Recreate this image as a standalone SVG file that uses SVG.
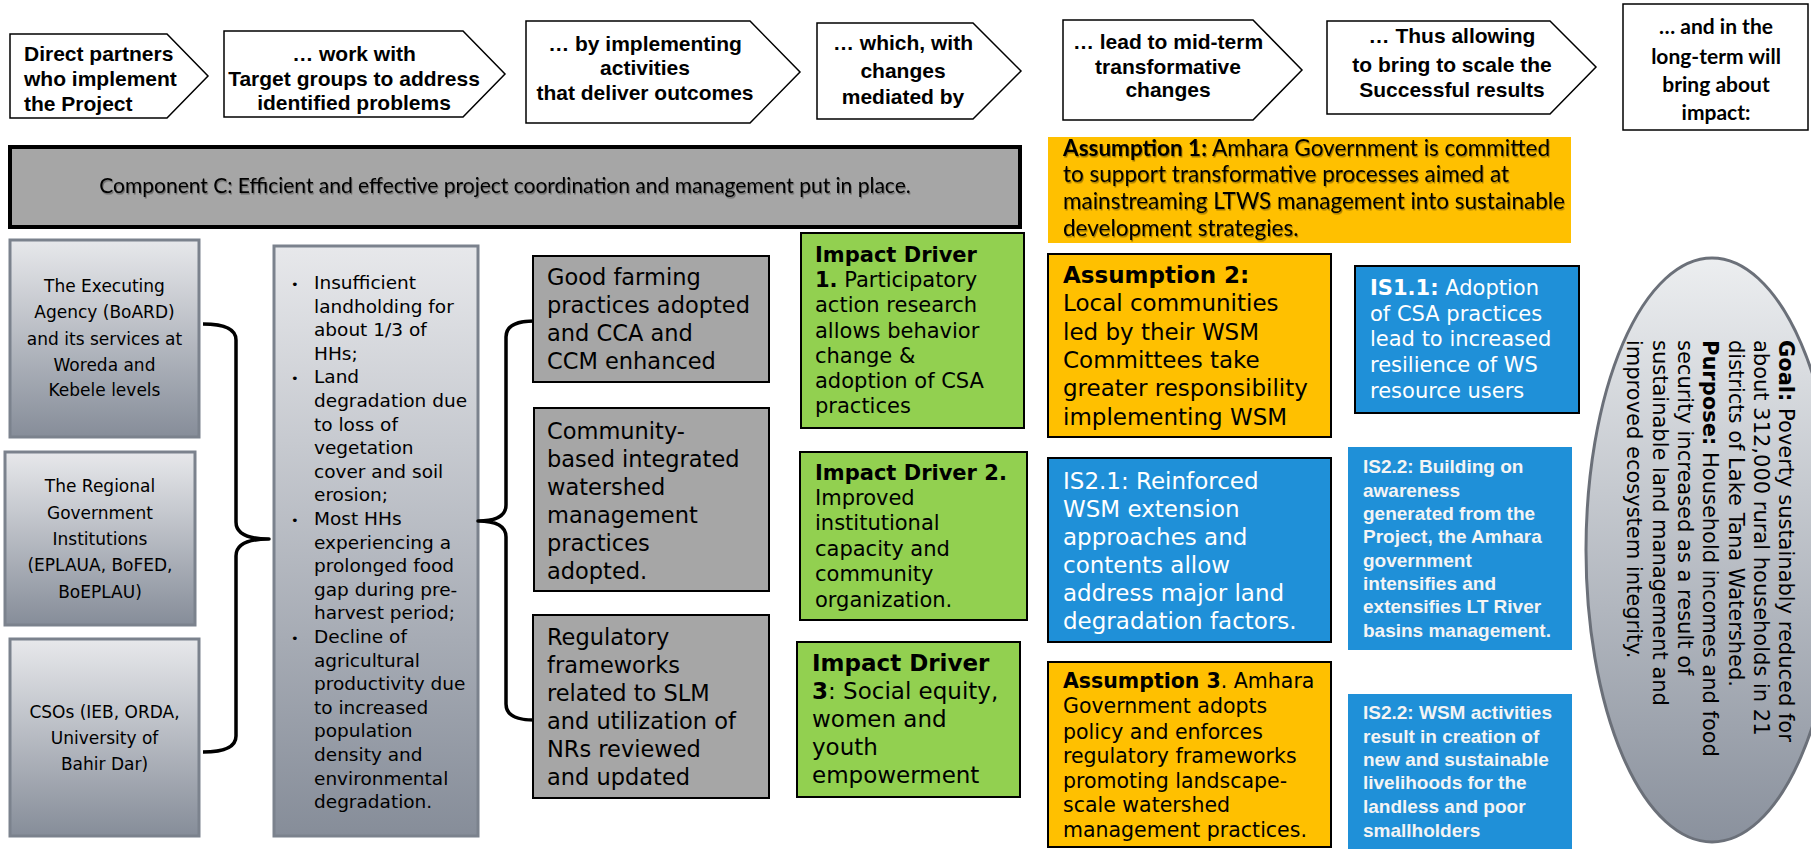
<svg xmlns="http://www.w3.org/2000/svg" width="1811" height="849" viewBox="0 0 1811 849">
<defs>
<linearGradient id="gPartner" x1="0" y1="0" x2="0" y2="1"><stop offset="0" stop-color="#e7e8eb"/><stop offset="1" stop-color="#868d99"/></linearGradient>
<linearGradient id="gEll" x1="0" y1="0" x2="0" y2="1"><stop offset="0" stop-color="#eceef0"/><stop offset="1" stop-color="#8a919d"/></linearGradient>
<filter id="ts" x="-5%" y="-30%" width="110%" height="160%"><feDropShadow dx="1" dy="1.5" stdDeviation="0.7" flood-color="#000" flood-opacity="0.35"/></filter>
</defs>
<style>
.hdr{fill:#fff;stroke:#000;stroke-width:1.5}
.ht{font-family:"Liberation Sans",Arial,sans-serif;font-weight:bold;font-size:21px;fill:#000}
.lt{font-family:Lato,"Liberation Sans",sans-serif;fill:#000}
.v{font-family:"DejaVu Sans",Verdana,sans-serif;fill:#000}
.partner{fill:url(#gPartner);stroke:#7b828d;stroke-width:3}
.gray{fill:#a6a6a6;stroke:#000;stroke-width:2}
.green{fill:#92d050;stroke:#000;stroke-width:2}
.yellow{fill:#ffc000;stroke:#000;stroke-width:2}
.blue{fill:#1f90d8;stroke:#000;stroke-width:2}
.bluenb{fill:#1f90d8}
.wt{fill:#fff}
.ab{font-family:"Liberation Sans",Arial,sans-serif;font-weight:bold;font-size:19px;fill:#f4f4f4}
.brace{fill:none;stroke:#000;stroke-width:3.5;stroke-linejoin:round}
.b{font-weight:bold}
</style>

<!-- Header row -->
<g id="h1">
<polygon class="hdr" points="10,34 167,34 208,76 167,118 10,118"/>
<text class="ht"><tspan x="24" y="61">Direct partners</tspan><tspan x="24" y="86">who implement</tspan><tspan x="24" y="111">the Project</tspan></text>
</g>
<g id="h2">
<polygon class="hdr" points="224,31 463,31 505,74 463,117 224,117"/>
<text class="ht" text-anchor="middle"><tspan x="354" y="61">…  work with</tspan><tspan x="354" y="86">Target groups to address</tspan><tspan x="354" y="110">identified problems</tspan></text>
</g>
<g id="h3">
<polygon class="hdr" points="526,21 750,21 800,72 750,123 526,123"/>
<text class="ht" text-anchor="middle"><tspan x="645" y="51">… by implementing</tspan><tspan x="645" y="75">activities</tspan><tspan x="645" y="100">that deliver outcomes</tspan></text>
</g>
<g id="h4">
<polygon class="hdr" points="817,23 973,23 1021,71 973,119 817,119"/>
<text class="ht" text-anchor="middle"><tspan x="903" y="50">… which, with</tspan><tspan x="903" y="78">changes</tspan><tspan x="903" y="104">mediated by</tspan></text>
</g>
<g id="h5">
<polygon class="hdr" points="1063,20 1253,20 1302,70 1253,120 1063,120"/>
<text class="ht" text-anchor="middle"><tspan x="1168" y="49">… lead to mid-term</tspan><tspan x="1168" y="74">transformative</tspan><tspan x="1168" y="97">changes</tspan></text>
</g>
<g id="h6">
<polygon class="hdr" points="1327,21 1550,21 1596,67 1550,114 1327,114"/>
<text class="ht" text-anchor="middle"><tspan x="1452" y="43">… Thus allowing</tspan><tspan x="1452" y="72">to bring to scale the</tspan><tspan x="1452" y="97">Successful results</tspan></text>
</g>
<g id="h7">
<rect class="hdr" x="1623" y="4" width="185" height="126"/>
<text class="lt b" font-size="21" text-anchor="middle"><tspan x="1716" y="34">… and in the</tspan><tspan x="1716" y="64">long-term will</tspan><tspan x="1716" y="92">bring about</tspan><tspan x="1716" y="120">impact:</tspan></text>
</g>

<!-- Component C -->
<g id="componentC">
<rect x="10" y="147" width="1010" height="80" fill="#a6a6a6" stroke="#000" stroke-width="4"/>
<text class="lt" font-size="21" x="505" y="193" text-anchor="middle" filter="url(#ts)">Component C: Efficient and effective project coordination and management put in place.</text>
</g>

<!-- Assumption 1 -->
<g id="assumption1">
<rect x="1048" y="137" width="523" height="106" fill="#ffc000"/>
<text class="lt" font-size="22.5" filter="url(#ts)"><tspan x="1063" y="156"><tspan class="b">Assumption 1:</tspan> Amhara Government is committed</tspan><tspan x="1063" y="182">to support transformative processes aimed at</tspan><tspan x="1063" y="209">mainstreaming LTWS management into sustainable</tspan><tspan x="1063" y="236">development strategies.</tspan></text>
</g>

<!-- Partners -->
<g id="partner1">
<rect class="partner" x="10" y="240" width="189" height="197"/>
<text class="v" font-size="17" text-anchor="middle"><tspan x="104.5" y="292">The Executing</tspan><tspan x="104.5" y="318">Agency (BoARD)</tspan><tspan x="104.5" y="345">and its services at</tspan><tspan x="104.5" y="371">Woreda and</tspan><tspan x="104.5" y="396">Kebele levels</tspan></text>
</g>
<g id="partner2">
<rect class="partner" x="5" y="452" width="190" height="173"/>
<text class="v" font-size="17" text-anchor="middle"><tspan x="100" y="492">The Regional</tspan><tspan x="100" y="519">Government</tspan><tspan x="100" y="545">Institutions</tspan><tspan x="100" y="571">(EPLAUA, BoFED,</tspan><tspan x="100" y="598">BoEPLAU)</tspan></text>
</g>
<g id="partner3">
<rect class="partner" x="10" y="639" width="189" height="197"/>
<text class="v" font-size="17" text-anchor="middle"><tspan x="104.5" y="718">CSOs (IEB, ORDA,</tspan><tspan x="104.5" y="744">University of</tspan><tspan x="104.5" y="770">Bahir Dar)</tspan></text>
</g>

<!-- Problems -->
<g id="problems">
<rect class="partner" x="274" y="246" width="204" height="590"/>
<text class="v" font-size="18.5">
<tspan x="291" y="289" font-size="13">•</tspan><tspan x="314" y="289">Insufficient</tspan>
<tspan x="314" y="313">landholding for</tspan>
<tspan x="314" y="336">about 1/3 of</tspan>
<tspan x="314" y="360">HHs;</tspan>
<tspan x="291" y="383" font-size="13">•</tspan><tspan x="314" y="383">Land</tspan>
<tspan x="314" y="407">degradation due</tspan>
<tspan x="314" y="431">to loss of</tspan>
<tspan x="314" y="454">vegetation</tspan>
<tspan x="314" y="478">cover and soil</tspan>
<tspan x="314" y="501">erosion;</tspan>
<tspan x="291" y="525" font-size="13">•</tspan><tspan x="314" y="525">Most HHs</tspan>
<tspan x="314" y="549">experiencing a</tspan>
<tspan x="314" y="572">prolonged food</tspan>
<tspan x="314" y="596">gap during pre-</tspan>
<tspan x="314" y="619">harvest period;</tspan>
<tspan x="291" y="643" font-size="13">•</tspan><tspan x="314" y="643">Decline of</tspan>
<tspan x="314" y="667">agricultural</tspan>
<tspan x="314" y="690">productivity due</tspan>
<tspan x="314" y="714">to increased</tspan>
<tspan x="314" y="737">population</tspan>
<tspan x="314" y="761">density and</tspan>
<tspan x="314" y="785">environmental</tspan>
<tspan x="314" y="808">degradation.</tspan>
</text>
</g>

<!-- Outcomes -->
<g id="outcome1">
<rect class="gray" x="533" y="256" width="236" height="126"/>
<text class="v" font-size="22.5"><tspan x="547" y="285">Good farming</tspan><tspan x="547" y="313">practices adopted</tspan><tspan x="547" y="341">and CCA and</tspan><tspan x="547" y="369">CCM enhanced</tspan></text>
</g>
<g id="outcome2">
<rect class="gray" x="534" y="408" width="235" height="183"/>
<text class="v" font-size="22.5"><tspan x="547" y="439">Community-</tspan><tspan x="547" y="467">based integrated</tspan><tspan x="547" y="495">watershed</tspan><tspan x="547" y="523">management</tspan><tspan x="547" y="551">practices</tspan><tspan x="547" y="579">adopted.</tspan></text>
</g>
<g id="outcome3">
<rect class="gray" x="533" y="615" width="236" height="183"/>
<text class="v" font-size="22.5"><tspan x="547" y="645">Regulatory</tspan><tspan x="547" y="673">frameworks</tspan><tspan x="547" y="701">related to SLM</tspan><tspan x="547" y="729">and utilization of</tspan><tspan x="547" y="757">NRs reviewed</tspan><tspan x="547" y="785">and updated</tspan></text>
</g>

<!-- Impact drivers -->
<g id="driver1">
<rect class="green" x="801" y="233" width="223" height="195"/>
<text class="v" font-size="21"><tspan x="815" y="262" class="b">Impact Driver</tspan><tspan x="815" y="287"><tspan class="b">1.</tspan> Participatory</tspan><tspan x="815" y="312">action research</tspan><tspan x="815" y="338">allows behavior</tspan><tspan x="815" y="363">change &amp;</tspan><tspan x="815" y="388">adoption of CSA</tspan><tspan x="815" y="413">practices</tspan></text>
</g>
<g id="driver2">
<rect class="green" x="800" y="452" width="227" height="168"/>
<text class="v" font-size="21"><tspan x="815" y="480" class="b">Impact Driver 2.</tspan><tspan x="815" y="505">Improved</tspan><tspan x="815" y="530">institutional</tspan><tspan x="815" y="556">capacity and</tspan><tspan x="815" y="581">community</tspan><tspan x="815" y="607">organization.</tspan></text>
</g>
<g id="driver3">
<rect class="green" x="797" y="642" width="223" height="155"/>
<text class="v" font-size="23"><tspan x="812" y="671" class="b">Impact Driver</tspan><tspan x="812" y="699"><tspan class="b">3</tspan>: Social equity,</tspan><tspan x="812" y="727">women and</tspan><tspan x="812" y="755">youth</tspan><tspan x="812" y="783">empowerment</tspan></text>
</g>

<!-- Assumptions 2 and 3 -->
<g id="assumption2">
<rect class="yellow" x="1048" y="254" width="283" height="183"/>
<text class="v" font-size="23"><tspan x="1063" y="283" class="b">Assumption 2:</tspan><tspan x="1063" y="311">Local communities</tspan><tspan x="1063" y="340">led by their WSM</tspan><tspan x="1063" y="368">Committees take</tspan><tspan x="1063" y="396">greater responsibility</tspan><tspan x="1063" y="425">implementing WSM</tspan></text>
</g>
<g id="is21">
<rect class="blue" x="1048" y="458" width="283" height="184"/>
<text class="v wt" font-size="23"><tspan x="1063" y="489">IS2.1: Reinforced</tspan><tspan x="1063" y="517">WSM extension</tspan><tspan x="1063" y="545">approaches and</tspan><tspan x="1063" y="573">contents allow</tspan><tspan x="1063" y="601">address major land</tspan><tspan x="1063" y="629">degradation factors.</tspan></text>
</g>
<g id="assumption3">
<rect class="yellow" x="1048" y="662" width="283" height="185"/>
<text class="v" font-size="20.5"><tspan x="1063" y="688"><tspan class="b">Assumption 3</tspan>. Amhara</tspan><tspan x="1063" y="713">Government adopts</tspan><tspan x="1063" y="739">policy and enforces</tspan><tspan x="1063" y="763">regulatory frameworks</tspan><tspan x="1063" y="788">promoting landscape-</tspan><tspan x="1063" y="812">scale watershed</tspan><tspan x="1063" y="837">management practices.</tspan></text>
</g>

<!-- Intermediate states -->
<g id="is11">
<rect class="blue" x="1355" y="266" width="224" height="147"/>
<text class="v wt" font-size="21"><tspan x="1370" y="295"><tspan class="b">IS1.1:</tspan> Adoption</tspan><tspan x="1370" y="321">of CSA practices</tspan><tspan x="1370" y="346">lead to increased</tspan><tspan x="1370" y="372">resilience of WS</tspan><tspan x="1370" y="398">resource users</tspan></text>
</g>
<g id="is22a">
<rect class="bluenb" x="1348" y="447" width="224" height="203"/>
<text class="ab"><tspan x="1363" y="473">IS2.2: Building on</tspan><tspan x="1363" y="497">awareness</tspan><tspan x="1363" y="520">generated from the</tspan><tspan x="1363" y="543">Project, the Amhara</tspan><tspan x="1363" y="567">government</tspan><tspan x="1363" y="590">intensifies and</tspan><tspan x="1363" y="613">extensifies LT River</tspan><tspan x="1363" y="637">basins management.</tspan></text>
</g>
<g id="is22b">
<rect class="bluenb" x="1348" y="694" width="224" height="155"/>
<text class="ab"><tspan x="1363" y="719">IS2.2: WSM activities</tspan><tspan x="1363" y="743">result in creation of</tspan><tspan x="1363" y="766">new and sustainable</tspan><tspan x="1363" y="789">livelihoods for the</tspan><tspan x="1363" y="813">landless and poor</tspan><tspan x="1363" y="837">smallholders</tspan></text>
</g>

<!-- Goal ellipse -->
<g id="goal">
<ellipse cx="1712" cy="550" rx="126" ry="292" fill="url(#gEll)" stroke="#6b7079" stroke-width="3"/>
<g class="v" font-size="21">
<text transform="translate(1779,340) rotate(90)"><tspan class="b">Goal:</tspan> Poverty sustainably reduced for</text>
<text transform="translate(1754,340) rotate(90)">about 312,000 rural households in 21</text>
<text transform="translate(1729,340) rotate(90)">districts of Lake Tana Watershed.</text>
<text transform="translate(1703,340) rotate(90)"><tspan class="b">Purpose:</tspan> Household incomes and food</text>
<text transform="translate(1678,340) rotate(90)">security increased as a result of</text>
<text transform="translate(1653,340) rotate(90)">sustainable land management and</text>
<text transform="translate(1627,340) rotate(90)">improved ecosystem integrity.</text>
</g>
</g>

<!-- Connectors (braces) -->
<g id="connectors">
<path class="brace" d="M203,324 Q236,324 236,340 L236,522 Q236,539 269,539 Q236,539 236,556 L236,736 Q236,752 203,752"/>
<path class="brace" d="M534,321 Q506,321 506,337 L506,505 Q506,521 478,521 Q506,521 506,537 L506,704 Q506,720 534,720"/>
</g>
</svg>
